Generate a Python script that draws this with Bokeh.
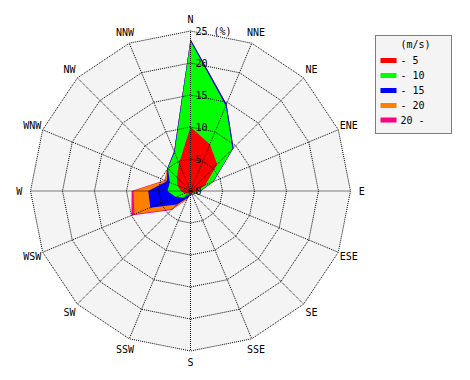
import numpy as np
from bokeh.plotting import figure
from bokeh.models import Range1d
from bokeh.core.properties import value
from bokeh.embed import file_html
from bokeh.resources import INLINE

# ---- data ----
directions = ["N", "NNE", "NE", "ENE", "E", "ESE", "SE", "SSE",
              "S", "SSW", "SW", "WSW", "W", "WNW", "NW", "NNW"]
speed_labels = ["- 5", "- 10", "- 15", "- 20", "20 -"]
speed_colors = ["#ff0000", "#00ff00", "#0000ff", "#ff8000", "#ff0080"]
# frequency (%) of each speed class per direction
freq_0_5   = [10.0, 7.9, 5.9, 2.5, 1.0, 0.5, 0.4, 0.3, 0.3, 0.3, 0.5, 1.0, 1.5, 2.2, 3.0, 4.7]
freq_5_10  = [13.4, 6.5, 3.4, 1.3, 0.5, 0.3, 0.2, 0.2, 0.2, 0.3, 1.0, 1.5, 2.1, 1.3, 2.0, 1.8]
freq_10_15 = [0.3, 0.3, 0.2, 0.1, 0.1, 0.1, 0.1, 0.1, 0.1, 0.6, 1.5, 4.3, 3.0, 0.5, 0.1, 0.2]
freq_15_20 = [0.0, 0.0, 0.0, 0.0, 0.0, 0.0, 0.0, 0.0, 0.0, 0.2, 1.0, 2.7, 2.3, 0.3, 0.0, 0.0]
freq_20_up = [0.0, 0.0, 0.0, 0.0, 0.0, 0.0, 0.0, 0.0, 0.0, 0.1, 0.2, 0.5, 0.3, 0.1, 0.0, 0.0]
ring_values = [5, 10, 15, 20, 25]
ring_labels = ["5", "10", "15", "20", "25 (%)"]

FONT = value("DejaVu Sans Mono")
# ---- layout (pixel scale) ----
W, H = 462, 372
CX, CY = 190.0, 190.5   # pixels of centre
S = 6.4                 # pixels per percent


def dx(px):
    return (px - CX) / S


def dy(py):
    return (CY - py) / S


p = figure(width=W, height=H, output_backend="svg", toolbar_location=None,
           x_range=Range1d(dx(0), dx(W)), y_range=Range1d(dy(H), dy(0)),
           min_border=0, outline_line_color=None,
           background_fill_color="white", border_fill_color="white")
p.axis.visible = False
p.grid.visible = False

bearing = np.deg2rad(np.arange(16) * 22.5)
sx, sy = np.sin(bearing), np.cos(bearing)

# background disc (16-gon)
rmax = ring_values[-1]
p.patch(list(rmax * sx), list(rmax * sy), fill_color="#f4f4f4", line_color=None)

# stacked (cumulative) polygons, largest first
series = np.array([freq_0_5, freq_5_10, freq_10_15, freq_15_20, freq_20_up])
cum = np.cumsum(series, axis=0)
for k in range(len(speed_labels) - 1, -1, -1):
    r = cum[k]
    p.patch(list(r * sx), list(r * sy), fill_color=speed_colors[k], line_color=None)

# grid rings and spokes
ring_xs = [list(np.append(rv * sx, rv * sx[0])) for rv in ring_values]
ring_ys = [list(np.append(rv * sy, rv * sy[0])) for rv in ring_values]
p.multi_line(ring_xs, ring_ys, line_color="black", line_width=1, line_dash="1 1")
spoke_xs = [[0, rmax * a] for a in sx]
spoke_ys = [[0, rmax * b] for b in sy]
p.multi_line(spoke_xs, spoke_ys, line_color="black", line_width=1, line_dash="1 1")

# ring labels
p.text(x=[dx(195)] * (len(ring_values) + 1), y=[0] + ring_values, text=["0"] + ring_labels,
       text_font=FONT, text_font_size="10px", text_color="black",
       text_align="left", text_baseline="alphabetic")

# direction labels
rl = 26.75
p.text(x=list(rl * sx), y=list(rl * sy), text=directions, text_font=FONT,
       text_font_size="10px", text_color="black", text_align="center", text_baseline="middle")

# legend box
lx0, lx1, ly0, ly1 = 375, 451, 35, 133
p.quad(left=[dx(lx0)], right=[dx(lx1)], top=[dy(ly0)], bottom=[dy(ly1)],
       fill_color="#f4f4f4", line_color="black", line_dash="1 1", line_width=1)
p.text(x=[dx(415)], y=[dy(44)], text=["(m/s)"], text_font=FONT, text_font_size="10px",
       text_color="black", text_align="center", text_baseline="middle")
entry_y = [60, 75, 90, 105, 119.5]
p.quad(left=[dx(380)] * 5, right=[dx(396)] * 5,
       top=[dy(yy - 2.5) for yy in entry_y], bottom=[dy(yy + 2.5) for yy in entry_y],
       fill_color=speed_colors, line_color=None)
p.text(x=[dx(400)] * 5, y=[dy(yy) for yy in entry_y], text=speed_labels, text_font=FONT,
       text_font_size="10px", text_color="black", text_align="left", text_baseline="middle")

open("out.html", "w").write(file_html(p, INLINE))
